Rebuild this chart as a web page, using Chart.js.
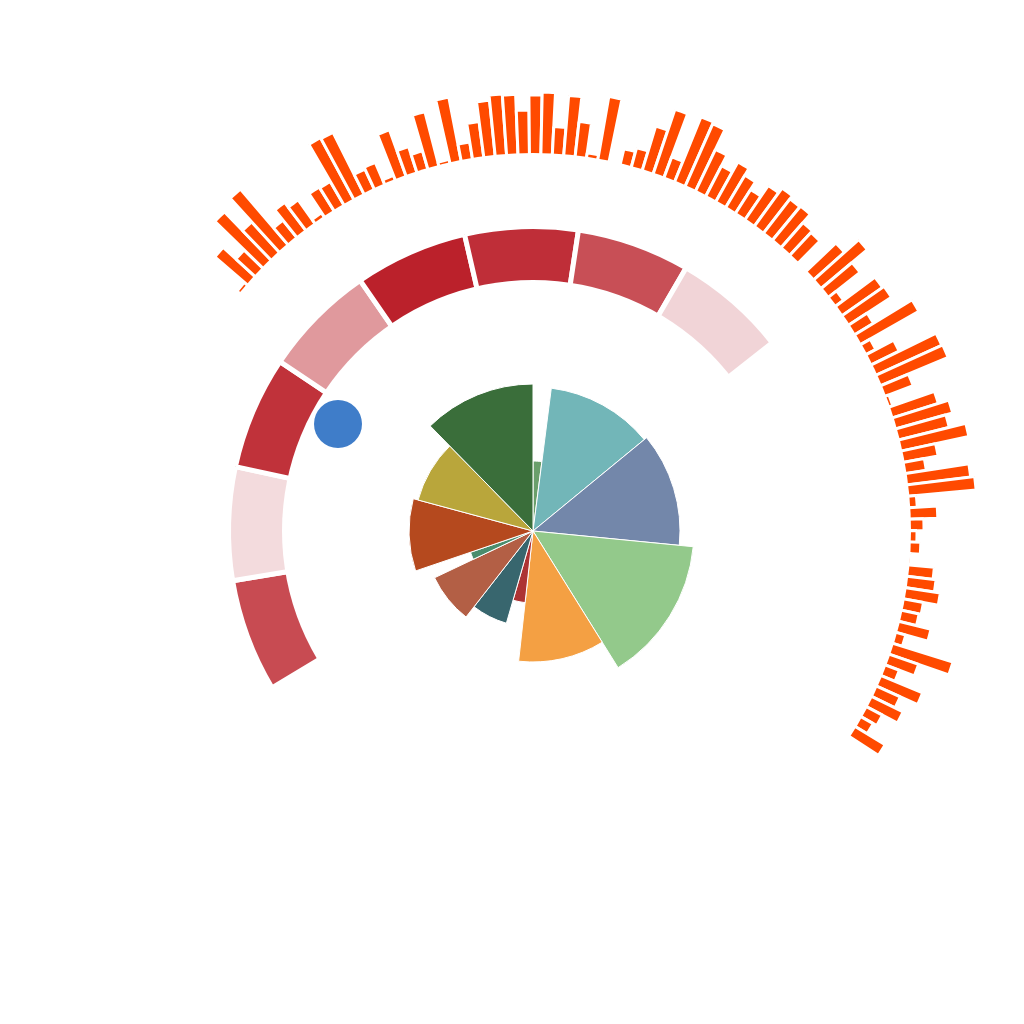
<!DOCTYPE html>
<html>
<head>
<meta charset="utf-8">
<script src="https://cdn.jsdelivr.net/npm/chart.js@4.4.1/dist/chart.umd.min.js"></script>
<style>
  html, body { margin: 0; padding: 0; background: #ffffff; width: 1024px; height: 1024px; overflow: hidden; }
  canvas { position: absolute; left: 0; top: 0; }
</style>
</head>
<body>
<canvas id="cBars" width="1024" height="1024"></canvas>
<canvas id="cRing" width="1024" height="1024"></canvas>
<canvas id="cRose" width="1024" height="1024"></canvas>
<canvas id="cDot" width="1024" height="1024"></canvas>
<script>
// ---------------- DATA ----------------
// Outer radial bars (100 bars, clockwise from upper-left)
const barValues = [
  3, 42, 25, 66, 40, 72, 21, 34, 28, 4,
  27, 26, 69, 68, 21, 23, 4, 48, 26, 18,
  55, 3, 64, 16, 35, 55, 60, 59, 43, 58,
  61, 27, 59, 34, 4, 63, 0.5, 15, 19, 45,
  67, 21, 69, 67, 45, 33, 44, 36, 27, 40,
  46, 42, 43, 32, 30, 0.5, 40, 59, 39, 9,
  48, 50, 21, 66, 10, 30, 71, 72, 29, 3,
  47, 58, 51, 68, 34, 20, 63, 67, 7, 27,
  13, 6, 10, 1, 25, 28, 34, 19, 17, 32,
  9, 62, 30, 14, 44, 25, 34, 17, 13, 34
];
const barLabels = barValues.map((_, i) => 'B' + (i + 1));

// Middle ring segments
const ringLabels = ['R1', 'R2', 'R3', 'R4', 'R5', 'R6', 'R7', 'R8'];
const ringValues = [1, 1, 1, 1, 1, 1, 1, 1];
const ringColors = ['#c84b52', '#f3dbdd', '#c0323a', '#e0999d', '#bb212b', '#bf2e38', '#c84f56', '#f1d4d7'];

// Inner rose (radius value + angular width in degrees)
const roseLabels = ['A', 'B', 'C', 'D', 'E', 'F', 'G', 'H', 'I', 'J', 'K', 'L'];
const roseValues = [70, 144, 147, 161, 131, 72, 96, 109, 66, 124, 119, 147];
const roseAngles = [7.3, 43.3, 45.0, 52.5, 38.2, 9.8, 21.8, 26.7, 6.6, 33.9, 30.5, 44.4];
const roseColors = ['#6a9f6b', '#72b6b8', '#7387aa', '#93c98b', '#f4a043', '#ad3333',
                    '#38666e', '#b35f45', '#4a8d6d', '#b5491e', '#b9a63b', '#3a6e3a'];

// Marker point
const markerPoints = [{ x: -195, y: 107 }];

// ---------------- LAYOUT / STYLE ----------------
const PAD = { left: 83, top: 81, right: 41, bottom: 43 }; // centre at (533,531), radius 450
const R_FULL = 450;
const BAR_BASE = 378;
const BAR_START = -51, BAR_SPAN = 174;
const RING_START = -121, RING_SPAN = 172.8;
const RING_OUTER = 304.5, RING_INNER = 251;

const holePlugin = {
  id: 'hole',
  afterDatasetsDraw(chart, args, opts) {
    const s = chart.scales.r;
    const rad = opts.px != null ? opts.px : s.getDistanceFromCenterForValue(opts.value || 0);
    const ctx = chart.ctx;
    ctx.save();
    ctx.globalCompositeOperation = 'destination-out';
    ctx.beginPath();
    ctx.arc(s.xCenter, s.yCenter, rad, 0, Math.PI * 2);
    ctx.fill();
    ctx.restore();
  }
};

function polarOptions(startAngle, rMin, rMax, hole) {
  return {
    responsive: false,
    animation: false,
    events: [],
    layout: { padding: PAD },
    plugins: { legend: { display: false }, tooltip: { enabled: false }, hole: hole || false },
    scales: { r: { display: false, min: rMin, max: rMax, beginAtZero: false, startAngle: startAngle } }
  };
}

// Outer bars
const barAngle = BAR_SPAN / barValues.length;
new Chart(document.getElementById('cBars'), {
  type: 'polarArea',
  data: {
    labels: barLabels,
    datasets: [{
      data: barValues,
      backgroundColor: '#ff4a00',
      borderColor: '#ffffff',
      borderWidth: 3,
      angle: () => barAngle
    }]
  },
  options: polarOptions(BAR_START, -BAR_BASE, R_FULL - BAR_BASE, { value: 0 }),
  plugins: [holePlugin]
});

// Middle ring
const ringAngle = RING_SPAN / ringValues.length;
new Chart(document.getElementById('cRing'), {
  type: 'polarArea',
  data: {
    labels: ringLabels,
    datasets: [{
      data: ringValues,
      backgroundColor: ringColors,
      borderColor: '#ffffff',
      borderWidth: 5,
      angle: () => ringAngle
    }]
  },
  options: polarOptions(RING_START, 0, R_FULL / RING_OUTER, { px: RING_INNER }),
  plugins: [holePlugin]
});

// Inner rose
new Chart(document.getElementById('cRose'), {
  type: 'polarArea',
  data: {
    labels: roseLabels,
    datasets: [{
      data: roseValues,
      backgroundColor: roseColors,
      borderColor: '#ffffff',
      borderWidth: 1,
      angle: (ctx) => roseAngles[ctx.dataIndex]
    }]
  },
  options: polarOptions(0, 0, R_FULL)
});

// Marker dot
new Chart(document.getElementById('cDot'), {
  type: 'scatter',
  data: {
    datasets: [{
      data: markerPoints,
      backgroundColor: '#3f7dc9',
      borderWidth: 0,
      pointRadius: 24
    }]
  },
  options: {
    responsive: false,
    animation: false,
    events: [],
    layout: { padding: PAD },
    plugins: { legend: { display: false }, tooltip: { enabled: false } },
    scales: {
      x: { display: false, min: -R_FULL, max: R_FULL },
      y: { display: false, min: -R_FULL, max: R_FULL }
    }
  }
});
</script>
</body>
</html>
